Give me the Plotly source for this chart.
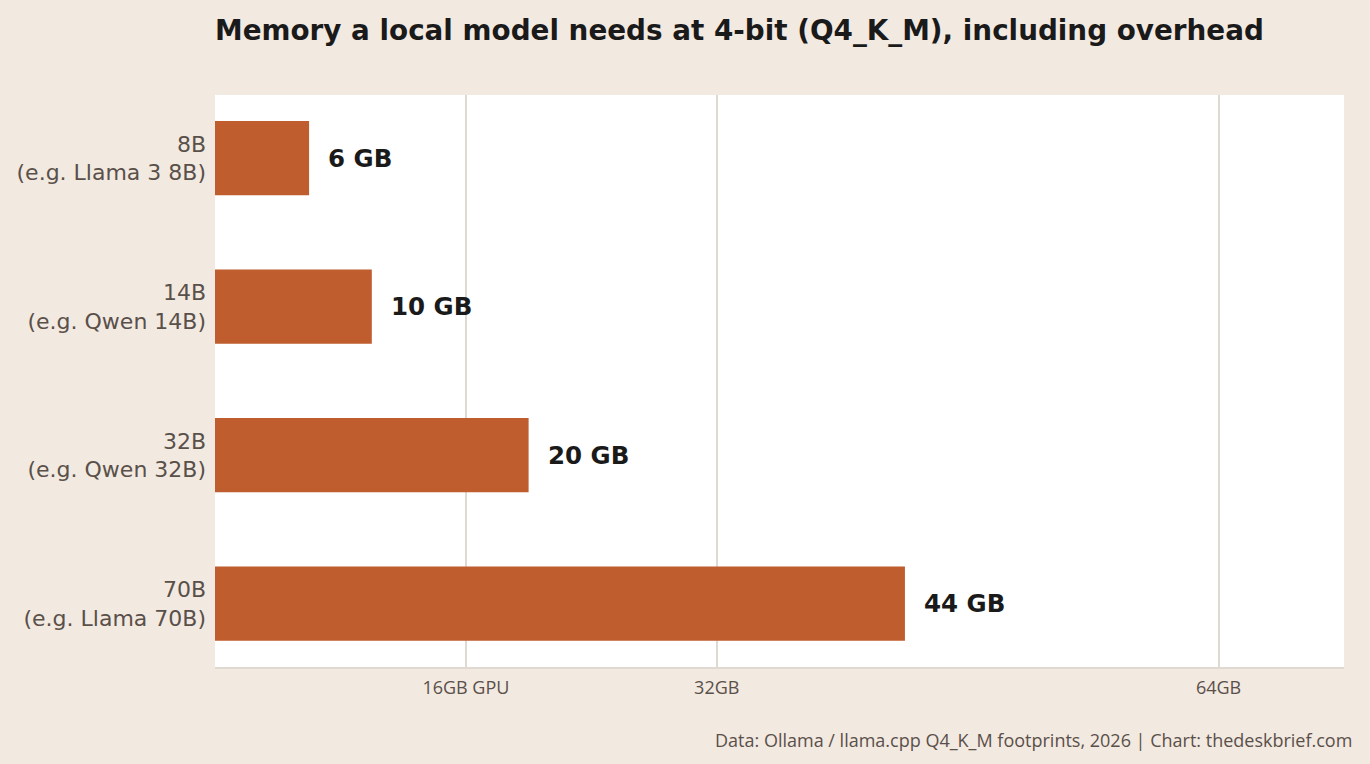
import plotly.graph_objects as go

categories = ["8B<br>(e.g. Llama 3 8B)", "14B<br>(e.g. Qwen 14B)", "32B<br>(e.g. Qwen 32B)", "70B<br>(e.g. Llama 70B)"]
memory_gb = [6, 10, 20, 44]
value_labels = ["6 GB", "10 GB", "20 GB", "44 GB"]
tick_vals = [16, 32, 64]
tick_text = ["16GB GPU", "32GB", "64GB"]

BAR = "#c05d2e"
PAPER = "#f2e9e1"
GRID = "#e0d9d1"
MUTED = "#5a504a"
DARK = "#1a1a1a"

fig = go.Figure()
fig.add_trace(go.Bar(
    y=categories, x=memory_gb, orientation="h",
    marker=dict(color=BAR, line=dict(width=0)),
    hoverinfo="x+y",
))

for c, v, t in zip(categories, memory_gb, value_labels):
    fig.add_annotation(
        x=v, y=c, text=f"<b>{t}</b>", showarrow=False,
        xanchor="left", yanchor="middle", xshift=17,
        font=dict(family="DejaVu Sans", size=24.5, color=DARK),
    )

fig.add_annotation(
    x=(1354 - 215) / (1344 - 215), xref="paper",
    y=-(740 - 667) / (667 - 95), yref="paper",
    text="Data: Ollama / llama.cpp Q4_K_M footprints, 2026 | Chart: thedeskbrief.com",
    showarrow=False, xanchor="right", yanchor="middle",
    font=dict(family="Open Sans", size=18, color=MUTED),
)

fig.update_layout(
    width=1370, height=764,
    paper_bgcolor=PAPER, plot_bgcolor="white",
    margin=dict(l=215, r=26, t=95, b=97),
    bargap=0.5,
    showlegend=False,
    title=dict(
        text="<b>Memory a local model needs at 4-bit (Q4_K_M), including overhead</b>",
        x=215 / 1370, xanchor="left", y=1 - 30 / 764, yanchor="middle",
        font=dict(family="DejaVu Sans", size=27.8, color=DARK),
    ),
    xaxis=dict(
        range=[0, 72], tickvals=tick_vals, ticktext=tick_text,
        showgrid=True, gridcolor=GRID, gridwidth=2,
        showline=True, linecolor=GRID, linewidth=2,
        zeroline=False, ticks="", ticklabelstandoff=3,
        tickfont=dict(family="Open Sans", size=18, color=MUTED),
    ),
    yaxis=dict(
        range=[3.427, -0.425], showgrid=False, zeroline=False,
        ticks="", ticklabelstandoff=8,
        tickfont=dict(family="DejaVu Sans", size=22, color=MUTED),
    ),
)

fig.write_html("out.html")
